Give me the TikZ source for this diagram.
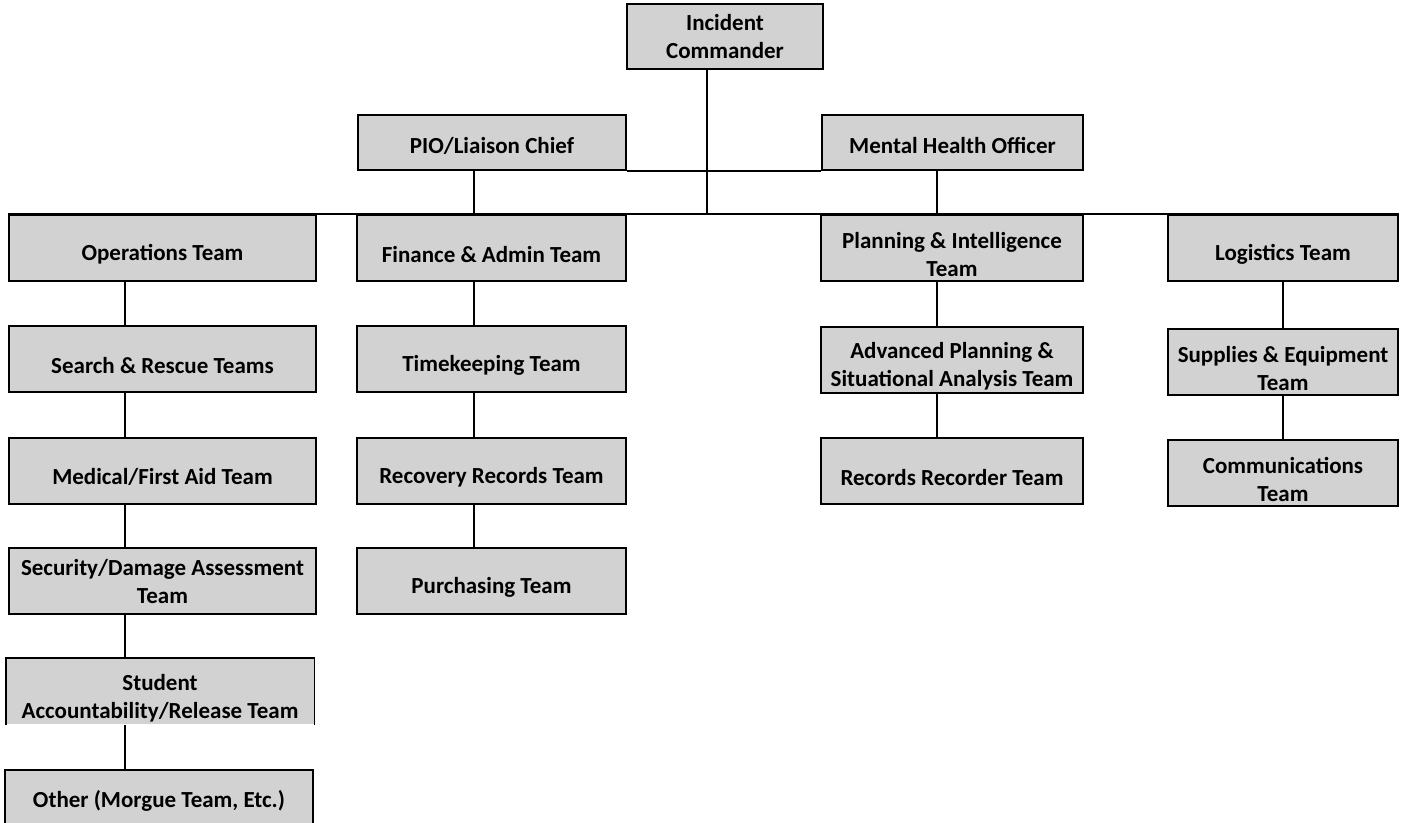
\documentclass[tikz,border=0pt]{standalone}
\usepackage{fontspec}
\setmainfont{Carlito}

\begin{document}
\begin{tikzpicture}[x=1pt, y=-1pt, line width=1.6pt,
  team/.style={draw=black, fill=gray!35, align=center, minimum height=66, inner sep=2pt, text height=29pt, font=\bfseries\fontsize{23}{28}\selectfont},
  twoteam/.style={team, text height=57pt},
  openteam/.style={twoteam, draw=none}]

\useasboundingbox (0,0) rectangle (1405,822);

\coordinate (c1) at (125,0);
\coordinate (c2) at (474,0);
\coordinate (c3) at (937,0);
\coordinate (c4) at (1283,0);
\coordinate (c0) at (707,0);

\node[twoteam, minimum width=196, minimum height=65, text height=45pt] (ic) at (725,36.5) {Incident\\Commander};
\node[team, minimum width=268, minimum height=55, text height=23pt] (pio) at (492,142.5) {PIO/Liaison Chief};
\node[team, minimum width=261, minimum height=55, text height=23pt] (mho) at (952.5,142.5) {Mental Health Officer};

\node[team, minimum width=307] (ops) at (162.5,248) {Operations Team};
\node[team, minimum width=307] (sar) at (162.5,359) {Search \& Rescue Teams};
\node[team, minimum width=307] (med) at (162.5,471) {Medical/First Aid Team};
\node[twoteam, minimum width=307, text height=45pt] (sec) at (162.5,581) {Security/Damage Assessment\\Team};
\node[openteam, minimum width=307, minimum height=65] (stu) at (160,691.5) {Student\\Accountability/Release Team};
\node[team, minimum width=308, text height=13pt] (oth) at (159,803) {Other (Morgue Team, Etc.)};

\node[team, minimum width=269] (fin) at (491.5,248) {Finance \& Admin Team};
\node[team, minimum width=269] (tim) at (491.5,359) {Timekeeping Team};
\node[team, minimum width=269] (rec) at (491.5,471) {Recovery Records Team};
\node[team, minimum width=269] (pur) at (491.5,581) {Purchasing Team};

\node[twoteam, minimum width=262] (pla) at (952,248) {Planning \& Intelligence\\Team};
\node[twoteam, minimum width=262] (adv) at (952,360) {Advanced Planning \&\\Situational Analysis Team};
\node[team, minimum width=262] (rrt) at (952,471) {Records Recorder Team};

\node[team, minimum width=230] (log) at (1283,248) {Logistics Team};
\node[twoteam, minimum width=230] (sup) at (1283,362) {Supplies \& Equipment\\Team};
\node[twoteam, minimum width=230] (com) at (1283,473) {Communications\\Team};

\draw (stu.south west) |- (stu.north east) -- (stu.south east);

\draw (ops.north west) -- (log.north east);
\draw (pio.south east) -- (mho.south west);
\draw (ic.south -| c0) -- (ops.north -| c0);
\draw (pio.south -| c2) -- (fin.north -| c2);
\draw (mho.south -| c3) -- (pla.north -| c3);

\draw (ops.south -| c1) -- (sar.north -| c1);
\draw (sar.south -| c1) -- (med.north -| c1);
\draw (med.south -| c1) -- (sec.north -| c1);
\draw (sec.south -| c1) -- (stu.north -| c1);
\draw (stu.south -| c1) -- (oth.north -| c1);

\draw (fin.south -| c2) -- (tim.north -| c2);
\draw (tim.south -| c2) -- (rec.north -| c2);
\draw (rec.south -| c2) -- (pur.north -| c2);

\draw (pla.south -| c3) -- (adv.north -| c3);
\draw (adv.south -| c3) -- (rrt.north -| c3);

\draw (log.south -| c4) -- (sup.north -| c4);
\draw (sup.south -| c4) -- (com.north -| c4);

\end{tikzpicture}
\end{document}
